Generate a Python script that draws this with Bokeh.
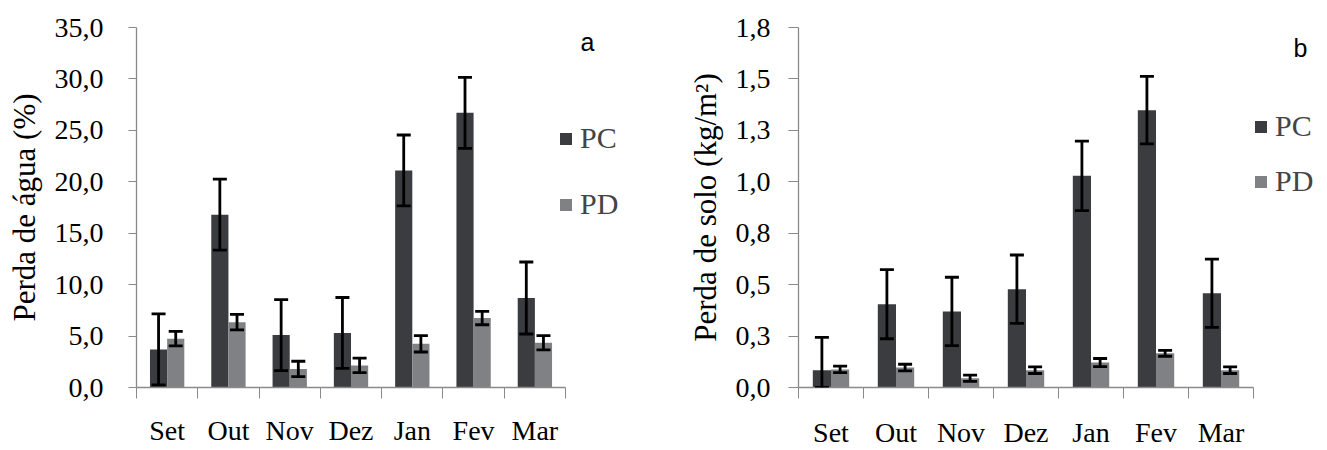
import numpy as np
from bokeh.plotting import figure
from bokeh.models import (Range1d, FixedTicker, ColumnDataSource, Whisker, TeeHead,
                          Legend, LegendItem, Label)
from bokeh.layouts import row
from bokeh.embed import file_html
from bokeh.resources import INLINE

# ---------------- data ----------------
months = ["Set", "Out", "Nov", "Dez", "Jan", "Fev", "Mar"]

# panel a: Perda de água (%)
agua_pc = [3.7, 16.8, 5.1, 5.3, 21.1, 26.7, 8.7]
agua_pc_err = [3.45, 3.45, 3.45, 3.45, 3.45, 3.45, 3.5]
agua_pd = [4.75, 6.35, 1.8, 2.15, 4.25, 6.75, 4.35]
agua_pd_err = [0.7, 0.75, 0.75, 0.7, 0.8, 0.65, 0.7]
agua_ticks = [0, 5, 10, 15, 20, 25, 30, 35]
agua_tick_labels = ["0,0", "5,0", "10,0", "15,0", "20,0", "25,0", "30,0", "35,0"]

# panel b: Perda de solo (kg/m2)
solo_pc = [0.084, 0.405, 0.37, 0.478, 1.029, 1.348, 0.458]
solo_pc_err = [0.16, 0.168, 0.166, 0.166, 0.169, 0.164, 0.166]
solo_pd = [0.088, 0.097, 0.045, 0.084, 0.121, 0.166, 0.084]
solo_pd_err = [0.016, 0.016, 0.015, 0.016, 0.02, 0.014, 0.016]
solo_ticks = [0, 0.25, 0.5, 0.75, 1.0, 1.25, 1.5, 1.75]
solo_tick_labels = ["0,0", "0,3", "0,5", "0,8", "1,0", "1,3", "1,5", "1,8"]

PC_COLOR = "#3a3c3f"
PD_COLOR = "#808185"
AXIS_COLOR = "#8a8a8a"
SERIF = "Liberation Serif"


def make_panel(pc, pc_err, pd, pd_err, ticks, tick_labels, ylabel, letter,
               width, ymax, xmax, borders, tick_out, label_standoff, x_standoff,
               legend_loc, legend_spacing, letter_pos):
    bl, br, bt, bb = borders
    n = len(months)
    p = figure(width=width, height=450, x_range=Range1d(0, xmax),
               y_range=Range1d(0, ymax), output_backend="svg",
               toolbar_location=None, min_border_left=bl, min_border_right=br,
               min_border_top=bt, min_border_bottom=bb)
    p.outline_line_color = None
    p.xgrid.visible = False
    p.ygrid.visible = False
    p.background_fill_color = "white"
    p.border_fill_color = "white"

    centers = np.arange(n) + 0.5
    bw = 0.28
    src = ColumnDataSource(dict(
        pc_x=centers - bw / 2, pd_x=centers + bw / 2,
        pc=pc, pd=pd,
        pc_up=np.array(pc) + np.array(pc_err),
        pc_lo=np.maximum(np.array(pc) - np.array(pc_err), 0),
        pd_up=np.array(pd) + np.array(pd_err),
        pd_lo=np.array(pd) - np.array(pd_err),
    ))
    r_pc = p.vbar(x="pc_x", top="pc", bottom=0, width=bw, source=src,
                  fill_color=PC_COLOR, line_color=None)
    r_pd = p.vbar(x="pd_x", top="pd", bottom=0, width=bw, source=src,
                  fill_color=PD_COLOR, line_color=None)

    for xcol, up, lo in (("pc_x", "pc_up", "pc_lo"), ("pd_x", "pd_up", "pd_lo")):
        w = Whisker(base=xcol, upper=up, lower=lo, source=src, level="overlay",
                    line_color="black", line_width=2.8,
                    upper_head=TeeHead(size=14, line_color="black", line_width=2.8),
                    lower_head=TeeHead(size=14, line_color="black", line_width=2.8))
        p.add_layout(w)

    # x axis
    xa = p.xaxis[0]
    xa.bounds = (0, n)
    xa.ticker = FixedTicker(ticks=list(centers), minor_ticks=list(np.arange(n + 1)))
    xa.major_label_overrides = {float(c): m for c, m in zip(centers, months)}
    xa.major_tick_out = 0
    xa.major_tick_in = 0
    xa.minor_tick_out = 11
    xa.minor_tick_in = 0
    xa.minor_tick_line_color = AXIS_COLOR
    xa.axis_line_color = AXIS_COLOR
    xa.axis_line_width = 1.3
    xa.major_label_text_font = SERIF
    xa.major_label_text_font_size = "28px"
    xa.major_label_text_color = "black"
    xa.major_label_standoff = x_standoff

    # y axis
    ya = p.yaxis[0]
    ya.ticker = FixedTicker(ticks=ticks)
    ya.major_label_overrides = {t: l for t, l in zip(ticks, tick_labels)}
    ya.major_tick_out = tick_out
    ya.major_tick_in = 0
    ya.minor_tick_line_color = None
    ya.major_tick_line_color = AXIS_COLOR
    ya.axis_line_color = AXIS_COLOR
    ya.axis_line_width = 1.3
    ya.major_label_text_font = SERIF
    ya.major_label_text_font_size = "28px"
    ya.major_label_text_color = "black"
    ya.major_label_standoff = label_standoff
    ya.axis_label = ylabel
    ya.axis_label_text_font = SERIF
    ya.axis_label_text_font_size = "31px"
    ya.axis_label_text_font_style = "normal"
    ya.axis_label_text_color = "black"
    ya.axis_label_standoff = 10

    legend = Legend(items=[LegendItem(label="PC", renderers=[r_pc]),
                           LegendItem(label="PD", renderers=[r_pd])],
                    location=legend_loc, orientation="vertical",
                    glyph_width=15, glyph_height=15, label_standoff=7,
                    spacing=legend_spacing, padding=0, margin=0,
                    border_line_color=None, background_fill_alpha=0,
                    label_text_font=SERIF, label_text_font_size="30px",
                    label_height=30)
    p.add_layout(legend)

    p.add_layout(Label(x=letter_pos[0], y=letter_pos[1], x_units="screen",
                       y_units="screen", text=letter, text_font="Liberation Sans",
                       text_font_size="25px", text_align="center",
                       text_baseline="middle", text_color="black"))
    return p


pa = make_panel(agua_pc, agua_pc_err, agua_pd, agua_pd_err, agua_ticks,
                agua_tick_labels, "Perda de água (%)", "a", 663, 35, 8.468,
                (136, 8, 27, 61), 8, 25, 16, (422, 166), 32, (451, 346))
pb = make_panel(solo_pc, solo_pc_err, solo_pd, solo_pd_err, solo_ticks,
                solo_tick_labels, "Perda de solo (kg/m²)", "b", 664, 1.75, 8.015,
                (135, 8, 24, 63), 10, 18, 18, (455, 189), 21, (502, 340))

layout = row(pa, pb)
open("out.html", "w").write(file_html(layout, INLINE))
